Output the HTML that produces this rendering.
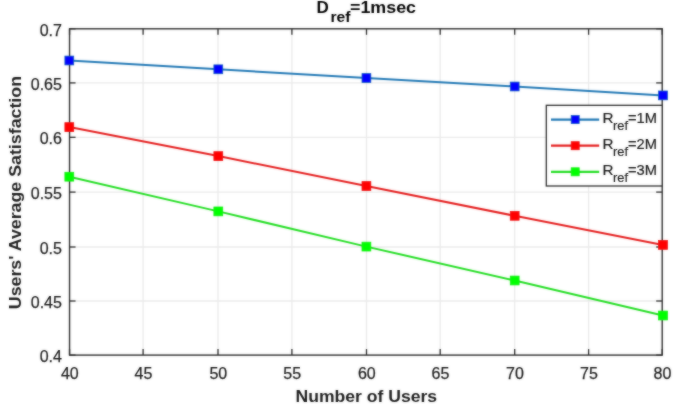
<!DOCTYPE html>
<html><head><meta charset="utf-8"><style>
html,body{margin:0;padding:0;background:#fff;}
svg{display:block;font-family:"Liberation Sans",sans-serif;}
</style></head><body>
<svg width="685" height="404" viewBox="0 0 685 404">
<defs><filter id="bl" x="0" y="0" width="1" height="1" color-interpolation-filters="sRGB"><feGaussianBlur in="SourceGraphic" stdDeviation="0.8" result="b"/><feComposite in="SourceGraphic" in2="b" operator="arithmetic" k1="0" k2="0.5" k3="0.5" k4="0"/></filter></defs><g filter="url(#bl)"><rect width="685" height="404" fill="#fff"/>
<line x1="143.10" y1="28.80" x2="143.10" y2="355.10" stroke="#eaeaea" stroke-width="1.3"/>
<line x1="218.00" y1="28.80" x2="218.00" y2="355.10" stroke="#eaeaea" stroke-width="1.3"/>
<line x1="291.90" y1="28.80" x2="291.90" y2="355.10" stroke="#eaeaea" stroke-width="1.3"/>
<line x1="366.50" y1="28.80" x2="366.50" y2="355.10" stroke="#eaeaea" stroke-width="1.3"/>
<line x1="440.20" y1="28.80" x2="440.20" y2="355.10" stroke="#eaeaea" stroke-width="1.3"/>
<line x1="514.70" y1="28.80" x2="514.70" y2="355.10" stroke="#eaeaea" stroke-width="1.3"/>
<line x1="588.60" y1="28.80" x2="588.60" y2="355.10" stroke="#eaeaea" stroke-width="1.3"/>
<line x1="69.55" y1="301.00" x2="662.20" y2="301.00" stroke="#eaeaea" stroke-width="1.3"/>
<line x1="69.55" y1="247.00" x2="662.20" y2="247.00" stroke="#eaeaea" stroke-width="1.3"/>
<line x1="69.55" y1="192.10" x2="662.20" y2="192.10" stroke="#eaeaea" stroke-width="1.3"/>
<line x1="69.55" y1="137.30" x2="662.20" y2="137.30" stroke="#eaeaea" stroke-width="1.3"/>
<line x1="69.55" y1="82.90" x2="662.20" y2="82.90" stroke="#eaeaea" stroke-width="1.3"/>
<rect x="69.55" y="28.80" width="592.65" height="326.30" fill="none" stroke="#2b2b2b" stroke-width="1.4"/>
<line x1="69.55" y1="355.10" x2="69.55" y2="349.10" stroke="#2b2b2b" stroke-width="1.3"/>
<line x1="69.55" y1="28.80" x2="69.55" y2="34.80" stroke="#2b2b2b" stroke-width="1.3"/>
<line x1="143.10" y1="355.10" x2="143.10" y2="349.10" stroke="#2b2b2b" stroke-width="1.3"/>
<line x1="143.10" y1="28.80" x2="143.10" y2="34.80" stroke="#2b2b2b" stroke-width="1.3"/>
<line x1="218.00" y1="355.10" x2="218.00" y2="349.10" stroke="#2b2b2b" stroke-width="1.3"/>
<line x1="218.00" y1="28.80" x2="218.00" y2="34.80" stroke="#2b2b2b" stroke-width="1.3"/>
<line x1="291.90" y1="355.10" x2="291.90" y2="349.10" stroke="#2b2b2b" stroke-width="1.3"/>
<line x1="291.90" y1="28.80" x2="291.90" y2="34.80" stroke="#2b2b2b" stroke-width="1.3"/>
<line x1="366.50" y1="355.10" x2="366.50" y2="349.10" stroke="#2b2b2b" stroke-width="1.3"/>
<line x1="366.50" y1="28.80" x2="366.50" y2="34.80" stroke="#2b2b2b" stroke-width="1.3"/>
<line x1="440.20" y1="355.10" x2="440.20" y2="349.10" stroke="#2b2b2b" stroke-width="1.3"/>
<line x1="440.20" y1="28.80" x2="440.20" y2="34.80" stroke="#2b2b2b" stroke-width="1.3"/>
<line x1="514.70" y1="355.10" x2="514.70" y2="349.10" stroke="#2b2b2b" stroke-width="1.3"/>
<line x1="514.70" y1="28.80" x2="514.70" y2="34.80" stroke="#2b2b2b" stroke-width="1.3"/>
<line x1="588.60" y1="355.10" x2="588.60" y2="349.10" stroke="#2b2b2b" stroke-width="1.3"/>
<line x1="588.60" y1="28.80" x2="588.60" y2="34.80" stroke="#2b2b2b" stroke-width="1.3"/>
<line x1="662.20" y1="355.10" x2="662.20" y2="349.10" stroke="#2b2b2b" stroke-width="1.3"/>
<line x1="662.20" y1="28.80" x2="662.20" y2="34.80" stroke="#2b2b2b" stroke-width="1.3"/>
<line x1="69.55" y1="355.10" x2="75.55" y2="355.10" stroke="#2b2b2b" stroke-width="1.3"/>
<line x1="662.20" y1="355.10" x2="656.20" y2="355.10" stroke="#2b2b2b" stroke-width="1.3"/>
<line x1="69.55" y1="301.00" x2="75.55" y2="301.00" stroke="#2b2b2b" stroke-width="1.3"/>
<line x1="662.20" y1="301.00" x2="656.20" y2="301.00" stroke="#2b2b2b" stroke-width="1.3"/>
<line x1="69.55" y1="247.00" x2="75.55" y2="247.00" stroke="#2b2b2b" stroke-width="1.3"/>
<line x1="662.20" y1="247.00" x2="656.20" y2="247.00" stroke="#2b2b2b" stroke-width="1.3"/>
<line x1="69.55" y1="192.10" x2="75.55" y2="192.10" stroke="#2b2b2b" stroke-width="1.3"/>
<line x1="662.20" y1="192.10" x2="656.20" y2="192.10" stroke="#2b2b2b" stroke-width="1.3"/>
<line x1="69.55" y1="137.30" x2="75.55" y2="137.30" stroke="#2b2b2b" stroke-width="1.3"/>
<line x1="662.20" y1="137.30" x2="656.20" y2="137.30" stroke="#2b2b2b" stroke-width="1.3"/>
<line x1="69.55" y1="82.90" x2="75.55" y2="82.90" stroke="#2b2b2b" stroke-width="1.3"/>
<line x1="662.20" y1="82.90" x2="656.20" y2="82.90" stroke="#2b2b2b" stroke-width="1.3"/>
<line x1="69.55" y1="28.80" x2="75.55" y2="28.80" stroke="#2b2b2b" stroke-width="1.3"/>
<line x1="662.20" y1="28.80" x2="656.20" y2="28.80" stroke="#2b2b2b" stroke-width="1.3"/>
<polyline points="69.30,60.50 218.30,69.30 366.40,78.00 514.70,86.50 663.00,95.40" fill="none" stroke="#1f77b4" stroke-width="2.0" stroke-linejoin="round"/>
<rect x="64.90" y="56.10" width="8.8" height="8.8" fill="#0000ff" stroke="#1060c0" stroke-width="0.8"/>
<rect x="213.90" y="64.90" width="8.8" height="8.8" fill="#0000ff" stroke="#1060c0" stroke-width="0.8"/>
<rect x="362.00" y="73.60" width="8.8" height="8.8" fill="#0000ff" stroke="#1060c0" stroke-width="0.8"/>
<rect x="510.30" y="82.10" width="8.8" height="8.8" fill="#0000ff" stroke="#1060c0" stroke-width="0.8"/>
<rect x="658.60" y="91.00" width="8.8" height="8.8" fill="#0000ff" stroke="#1060c0" stroke-width="0.8"/>
<polyline points="69.30,127.10 218.30,156.10 366.40,186.00 514.70,215.80 663.00,244.90" fill="none" stroke="#e41c1c" stroke-width="2.0" stroke-linejoin="round"/>
<rect x="64.90" y="122.70" width="8.8" height="8.8" fill="#ff0000" stroke="#ee1111" stroke-width="0.8"/>
<rect x="213.90" y="151.70" width="8.8" height="8.8" fill="#ff0000" stroke="#ee1111" stroke-width="0.8"/>
<rect x="362.00" y="181.60" width="8.8" height="8.8" fill="#ff0000" stroke="#ee1111" stroke-width="0.8"/>
<rect x="510.30" y="211.40" width="8.8" height="8.8" fill="#ff0000" stroke="#ee1111" stroke-width="0.8"/>
<rect x="658.60" y="240.50" width="8.8" height="8.8" fill="#ff0000" stroke="#ee1111" stroke-width="0.8"/>
<polyline points="69.30,176.70 218.30,211.40 366.40,246.60 514.70,280.50 663.00,315.50" fill="none" stroke="#22dd22" stroke-width="2.0" stroke-linejoin="round"/>
<rect x="64.90" y="172.30" width="8.8" height="8.8" fill="#00ff00" stroke="#11ee11" stroke-width="0.8"/>
<rect x="213.90" y="207.00" width="8.8" height="8.8" fill="#00ff00" stroke="#11ee11" stroke-width="0.8"/>
<rect x="362.00" y="242.20" width="8.8" height="8.8" fill="#00ff00" stroke="#11ee11" stroke-width="0.8"/>
<rect x="510.30" y="276.10" width="8.8" height="8.8" fill="#00ff00" stroke="#11ee11" stroke-width="0.8"/>
<rect x="658.60" y="311.10" width="8.8" height="8.8" fill="#00ff00" stroke="#11ee11" stroke-width="0.8"/>
<text x="61.9" y="362.10" text-anchor="end" font-size="16" fill="#181818" stroke="#181818" stroke-width="0.25">0.4</text>
<text x="61.9" y="308.00" text-anchor="end" font-size="16" fill="#181818" stroke="#181818" stroke-width="0.25">0.45</text>
<text x="61.9" y="254.00" text-anchor="end" font-size="16" fill="#181818" stroke="#181818" stroke-width="0.25">0.5</text>
<text x="61.9" y="199.10" text-anchor="end" font-size="16" fill="#181818" stroke="#181818" stroke-width="0.25">0.55</text>
<text x="61.9" y="144.30" text-anchor="end" font-size="16" fill="#181818" stroke="#181818" stroke-width="0.25">0.6</text>
<text x="61.9" y="89.90" text-anchor="end" font-size="16" fill="#181818" stroke="#181818" stroke-width="0.25">0.65</text>
<text x="61.9" y="35.80" text-anchor="end" font-size="16" fill="#181818" stroke="#181818" stroke-width="0.25">0.7</text>
<text x="69.85" y="378.6" text-anchor="middle" font-size="16" fill="#181818" stroke="#181818" stroke-width="0.25">40</text>
<text x="143.40" y="378.6" text-anchor="middle" font-size="16" fill="#181818" stroke="#181818" stroke-width="0.25">45</text>
<text x="218.30" y="378.6" text-anchor="middle" font-size="16" fill="#181818" stroke="#181818" stroke-width="0.25">50</text>
<text x="292.20" y="378.6" text-anchor="middle" font-size="16" fill="#181818" stroke="#181818" stroke-width="0.25">55</text>
<text x="366.80" y="378.6" text-anchor="middle" font-size="16" fill="#181818" stroke="#181818" stroke-width="0.25">60</text>
<text x="440.50" y="378.6" text-anchor="middle" font-size="16" fill="#181818" stroke="#181818" stroke-width="0.25">65</text>
<text x="515.00" y="378.6" text-anchor="middle" font-size="16" fill="#181818" stroke="#181818" stroke-width="0.25">70</text>
<text x="588.90" y="378.6" text-anchor="middle" font-size="16" fill="#181818" stroke="#181818" stroke-width="0.25">75</text>
<text x="662.50" y="378.6" text-anchor="middle" font-size="16" fill="#181818" stroke="#181818" stroke-width="0.25">80</text>
<text x="316.6" y="12.8" font-size="16" font-weight="bold" fill="#000" textLength="12.3" lengthAdjust="spacingAndGlyphs">D</text>
<text x="330.4" y="22.2" font-size="14" font-weight="bold" fill="#000" textLength="20" lengthAdjust="spacingAndGlyphs">ref</text>
<text x="350" y="12.8" font-size="16" font-weight="bold" fill="#000" textLength="66" lengthAdjust="spacingAndGlyphs">=1msec</text>
<text x="295.5" y="401.6" font-size="16.5" font-weight="bold" fill="#1c1c1c" textLength="141.6" lengthAdjust="spacingAndGlyphs">Number of Users</text>
<text transform="translate(20.7,309.2) rotate(-90)" x="0" y="0" font-size="16.3" font-weight="bold" fill="#1c1c1c" textLength="233.2" lengthAdjust="spacingAndGlyphs">Users' Average Satisfaction</text>
<rect x="546.3" y="105.3" width="115.90" height="80.70" fill="#fff" stroke="#2b2b2b" stroke-width="1.3"/>
<line x1="551" y1="119.6" x2="599.2" y2="119.6" stroke="#1f77b4" stroke-width="2.2"/>
<rect x="571.20" y="115.60" width="8.0" height="8.0" fill="#0000ff" stroke="#1060c0" stroke-width="0.8"/>
<text x="602.6" y="122.70" font-size="14.5" fill="#181818" stroke="#181818" stroke-width="0.2" textLength="11" lengthAdjust="spacingAndGlyphs">R</text>
<text x="613" y="129.70" font-size="12" fill="#181818" stroke="#181818" stroke-width="0.15" textLength="15" lengthAdjust="spacingAndGlyphs">ref</text>
<text x="628" y="122.70" font-size="14.5" fill="#181818" stroke="#181818" stroke-width="0.2" textLength="29" lengthAdjust="spacingAndGlyphs">=1M</text>
<line x1="551" y1="145.7" x2="599.2" y2="145.7" stroke="#e41c1c" stroke-width="2.2"/>
<rect x="571.20" y="141.70" width="8.0" height="8.0" fill="#ff0000" stroke="#ee1111" stroke-width="0.8"/>
<text x="602.6" y="148.80" font-size="14.5" fill="#181818" stroke="#181818" stroke-width="0.2" textLength="11" lengthAdjust="spacingAndGlyphs">R</text>
<text x="613" y="155.80" font-size="12" fill="#181818" stroke="#181818" stroke-width="0.15" textLength="15" lengthAdjust="spacingAndGlyphs">ref</text>
<text x="628" y="148.80" font-size="14.5" fill="#181818" stroke="#181818" stroke-width="0.2" textLength="29" lengthAdjust="spacingAndGlyphs">=2M</text>
<line x1="551" y1="171.8" x2="599.2" y2="171.8" stroke="#22dd22" stroke-width="2.2"/>
<rect x="571.20" y="167.80" width="8.0" height="8.0" fill="#00ff00" stroke="#11ee11" stroke-width="0.8"/>
<text x="602.6" y="174.90" font-size="14.5" fill="#181818" stroke="#181818" stroke-width="0.2" textLength="11" lengthAdjust="spacingAndGlyphs">R</text>
<text x="613" y="181.90" font-size="12" fill="#181818" stroke="#181818" stroke-width="0.15" textLength="15" lengthAdjust="spacingAndGlyphs">ref</text>
<text x="628" y="174.90" font-size="14.5" fill="#181818" stroke="#181818" stroke-width="0.2" textLength="29" lengthAdjust="spacingAndGlyphs">=3M</text>
</g></svg>
</body></html>
